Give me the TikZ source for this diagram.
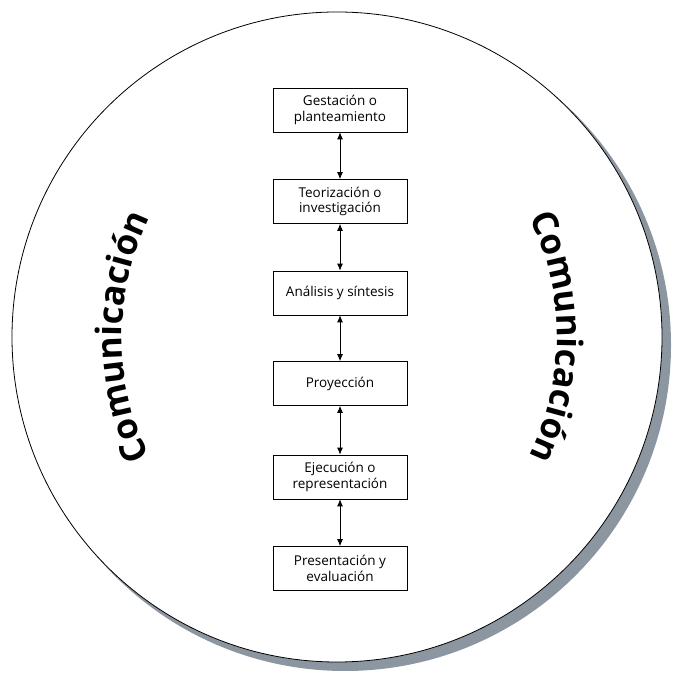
\documentclass[tikz,border=0pt]{standalone}
\usepackage{fontspec}
\setmainfont{Open Sans}
\usetikzlibrary{arrows.meta,decorations.text}
\definecolor{shadowgray}{RGB}{140,150,160}
\begin{document}
\begin{tikzpicture}[x=1pt,y=1pt,
  stage/.style={draw,line width=0.7pt,fill=white,minimum width=134pt,minimum height=44pt,align=center,inner sep=2pt,font=\fontsize{13.5}{15.5}\selectfont},
  link/.style={{Latex[length=7pt,width=6pt]}-{Latex[length=7pt,width=6pt]},line width=0.8pt}]
\useasboundingbox (0,0) rectangle (675,676);
% outer circle with its shadow
\fill[shadowgray] (345,331) circle[radius=326pt];
\draw[line width=0.8pt,fill=white] (337,339) circle[radius=325pt];
% the six stages
\node[stage] (gest) at (340,566) {Gestación o\\planteamiento};
\node[stage] (teor) at (340,474.5) {Teorización o\\investigación};
\node[stage] (anal) at (340,383) {Análisis y síntesis};
\node[stage] (proy) at (340,292.5) {Proyección};
\node[stage] (ejec) at (340,199) {Ejecución o\\representación};
\node[stage] (pres) at (340,107.5) {Presentación y\\evaluación};
\draw[link] (gest) -- (teor);
\draw[link] (teor) -- (anal);
\draw[link] (anal) -- (proy);
\draw[link] (proy) -- (ejec);
\draw[link] (ejec) -- (pres);
% curved labels
\path[decorate,decoration={text along path,text align=center,
  text={|\fontsize{35}{35}\selectfont\bfseries|Comunicación}}]
  (397,339) ++(220:275pt) arc[start angle=220,end angle=140,radius=275pt];
\path[decorate,decoration={text along path,text align=center,
  text={|\fontsize{35}{35}\selectfont\bfseries|Comunicación}}]
  (282,339) ++(40:275pt) arc[start angle=40,end angle=-40,radius=275pt];
\end{tikzpicture}
\end{document}
